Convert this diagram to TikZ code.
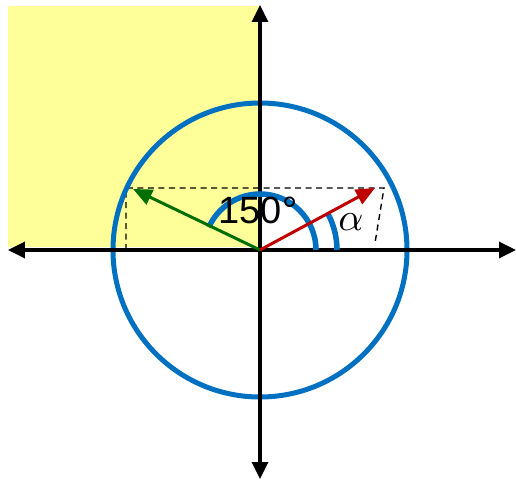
\documentclass[tikz,border=0pt]{standalone}
\usepackage{fontspec}
\setmainfont{Liberation Sans}
\usetikzlibrary{arrows.meta}
\definecolor{cblue}{RGB}{0,112,192}
\definecolor{cred}{RGB}{192,0,0}
\definecolor{cgreen}{RGB}{0,110,0}
\definecolor{cyellow}{RGB}{255,255,153}
\begin{document}
\begin{tikzpicture}[x=1pt,y=1pt,
  axis/.style={line width=3.4pt,-{Triangle[length=17pt,width=16pt]}},
  vec/.style={line width=3pt,-{Triangle[length=19pt,width=16pt]}},
  guide/.style={line width=1.4pt,dash pattern=on 6pt off 4.5pt},
  bluearc/.style={cblue,line width=5pt}]
\useasboundingbox (-260,-229) rectangle (256,250);
\fill[cyellow] (-252,3) rectangle (0,244);
\coordinate (O) at (0,0);
\coordinate (L) at (-252,0);
\coordinate (R) at (256,0);
\coordinate (T) at (0,245);
\coordinate (B) at (0,-229);
\coordinate (P) at (115,62);
\coordinate (Q) at (-127,61);
\coordinate (PL) at (-134,62);
\coordinate (PLb) at (-134,0);
\coordinate (PR) at (124,62);
\coordinate (PRb) at (115,7);
\draw[guide] (PLb) -- (PL) -- (PR) -- (PRb);
\draw[bluearc] (O) circle (147);
\draw[axis] (O) -- (R);
\draw[axis] (O) -- (L);
\draw[axis] (O) -- (T);
\draw[axis] (O) -- (B);
\draw[bluearc,line width=5.5pt] (56,0) arc (0:156:56);
\draw[bluearc,line width=5.5pt] (77,0) arc (0:28.5:77);
\draw[vec,cgreen] (O) -- (Q);
\draw[vec,cred] (O) -- (P);
\node[font=\fontsize{38}{40}\selectfont,inner sep=0pt] (lab) at (-2,40) {150°};
\node[inner sep=0pt] (alpha) at (91,28) {\scalebox{3.9}{$\alpha$}};
\end{tikzpicture}
\end{document}
